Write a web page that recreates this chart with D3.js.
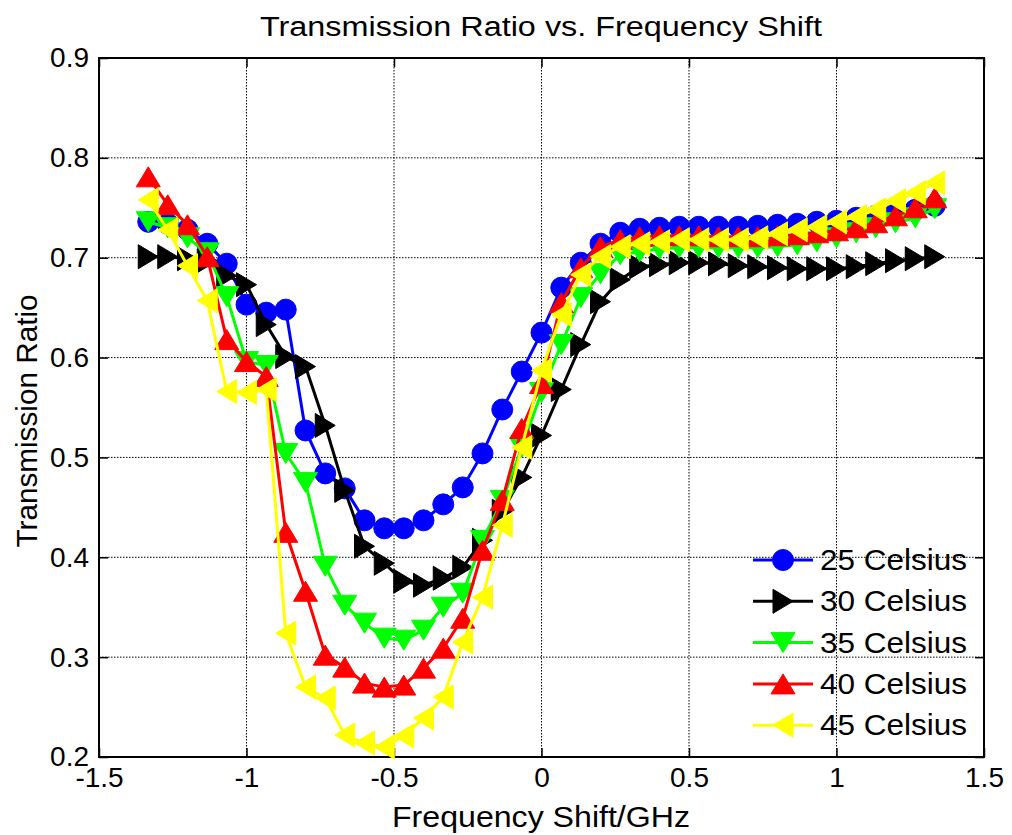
<!DOCTYPE html>
<html lang="en">
<head>
<meta charset="UTF-8">
<title>Transmission Ratio vs. Frequency Shift</title>
<script src="https://cdn.jsdelivr.net/npm/d3@7"></script>
<style>
*{margin:0; padding:0;}
body{background:#fff;}
svg text{font-family:"Liberation Sans", Arial, sans-serif; fill:#000;}
.grid line{stroke:#000; stroke-width:1; stroke-dasharray:1.5 1.5;}
.axis path{display:none;}
.axis line{stroke:#000; stroke-width:1.5;}
</style>
</head>
<body>
<script>
// frequency shift (GHz)
var shift = [-1.333,-1.267,-1.2,-1.133,-1.067,-1.0,-0.933,-0.867,-0.8,-0.733,
	-0.667,-0.6,-0.533,-0.467,-0.4,-0.333,-0.267,-0.2,-0.133,-0.067,
	0,0.067,0.133,0.2,0.267,0.333,0.4,0.467,0.533,0.6,
	0.667,0.733,0.8,0.867,0.933,1.0,1.067,1.133,1.2,1.267,1.333];

var t25 = [.736,.734,.728,.714,.694,.653,.645,.648,.527,.484,
	.469,.437,.429,.429,.437,.453,.470,.504,.548,.586,
	.625,.670,.695,.714,.725,.729,.730,.731,.731,.731,
	.731,.732,.733,.734,.736,.737,.740,.742,.745,.748,.752];
var t30 = [.701,.701,.699,.697,.682,.673,.633,.601,.591,.532,
	.467,.411,.394,.376,.372,.379,.390,.417,.446,.480,
	.522,.568,.613,.656,.678,.691,.693,.695,.695,.694,
	.692,.691,.690,.689,.689,.689,.691,.694,.697,.699,.701];
var t35 = [.736,.730,.720,.705,.661,.596,.592,.504,.475,.391,
	.352,.334,.319,.317,.327,.350,.364,.417,.457,.510,
	.565,.613,.660,.684,.703,.706,.709,.710,.710,.710,
	.710,.710,.711,.713,.716,.720,.725,.730,.735,.740,.749];
var t40 = [.781,.753,.733,.701,.618,.596,.581,.425,.366,.302,
	.290,.274,.270,.272,.289,.309,.339,.407,.457,.529,
	.574,.655,.690,.711,.718,.721,.722,.722,.722,.721,
	.721,.721,.722,.723,.725,.727,.730,.735,.742,.750,.760];
var t45 = [.758,.728,.692,.657,.566,.565,.568,.324,.270,.259,
	.222,.214,.210,.221,.239,.260,.315,.360,.432,.510,
	.587,.643,.683,.701,.711,.714,.716,.718,.718,.718,
	.718,.720,.724,.728,.731,.736,.741,.748,.757,.765,.775];

var seriesNames = ["25 Celsius", "30 Celsius", "35 Celsius", "40 Celsius", "45 Celsius"];
var seriesColors = ["#0000ff", "#000000", "#00ff00", "#ff0000", "#ffff00"];
var seriesMarkers = ["circle", "right", "down", "up", "left"];
var seriesValues = [t25, t30, t35, t40, t45];

var xTicks = [-1.5, -1, -0.5, 0, 0.5, 1, 1.5];
var xTickLabels = ["-1.5", "-1", "-0.5", "0", "0.5", "1", "1.5"];
var yTicks = [0.2, 0.3, 0.4, 0.5, 0.6, 0.7, 0.8, 0.9];

var width = 1012, height = 835;
var padL = 99, padR = 984, padT = 58, padB = 757;

var svg = d3.select("body").append("svg")
	.attr("width", width)
	.attr("height", height);

var x = d3.scaleLinear().domain([-1.5, 1.5]).range([padL, padR]);
var y = d3.scaleLinear().domain([0.2, 0.9]).range([padB, padT]);

// grid
var grid = svg.append("g").classed("grid", true);
grid.selectAll(".gx").data(xTicks.slice(1, -1)).enter().append("line")
	.attr("x1", function(d){ return x(d); }).attr("x2", function(d){ return x(d); })
	.attr("y1", padT).attr("y2", padB);
grid.selectAll(".gy").data(yTicks.slice(1, -1)).enter().append("line")
	.attr("y1", function(d){ return y(d); }).attr("y2", function(d){ return y(d); })
	.attr("x1", padL).attr("x2", padR);

// axes, ticks inside like matlab
var fmtX = function(d){ return xTickLabels[xTicks.indexOf(d)]; };
svg.append("g").attr("class", "axis")
	.attr("transform", "translate(0," + padB + ")")
	.call(d3.axisBottom(x).tickValues(xTicks).tickSizeInner(-9).tickSizeOuter(0).tickPadding(10).tickFormat(fmtX))
	.selectAll("text").style("font-size", "28px");
svg.append("g").attr("class", "axis")
	.attr("transform", "translate(0," + padT + ")")
	.call(d3.axisTop(x).tickValues(xTicks).tickSizeInner(-9).tickSizeOuter(0).tickFormat(""));
svg.append("g").attr("class", "axis")
	.attr("transform", "translate(" + padL + ",0)")
	.call(d3.axisLeft(y).tickValues(yTicks).tickSizeInner(-9).tickSizeOuter(0).tickPadding(10).tickFormat(d3.format(".1f")))
	.selectAll("text").style("font-size", "28px");
svg.append("g").attr("class", "axis")
	.attr("transform", "translate(" + padR + ",0)")
	.call(d3.axisRight(y).tickValues(yTicks).tickSizeInner(-9).tickSizeOuter(0).tickFormat(""));
svg.selectAll(".axis").attr("font-family", null).attr("font-size", null);

// box
svg.append("rect")
	.attr("x", padL).attr("y", padT)
	.attr("width", padR - padL).attr("height", padB - padT)
	.attr("fill", "none").attr("stroke", "#000").attr("stroke-width", 2);

// marker shapes, centred on their bounding box
function markerPath(type) {
	switch (type) {
		case "circle": return d3.symbol().type(d3.symbolCircle).size(Math.PI * 10.5 * 10.5)();
		case "right": return "M-10,-12L10,0L-10,12Z";
		case "left": return "M10,-12L-10,0L10,12Z";
		case "up": return "M-12,10L0,-10L12,10Z";
		case "down": return "M-12,-10L0,10L12,-10Z";
	}
}

var line = d3.line()
	.x(function(d){ return x(d[0]); })
	.y(function(d){ return y(d[1]); });

var plot = svg.append("g");
seriesValues.forEach(function(vals, k) {
	var pts = shift.map(function(s, i){ return [s, vals[i]]; });
	var g = plot.append("g");
	g.append("path")
		.attr("d", line(pts))
		.attr("fill", "none")
		.attr("stroke", seriesColors[k])
		.attr("stroke-width", 3);
	g.selectAll("path.m").data(pts).enter().append("path")
		.attr("class", "m")
		.attr("d", markerPath(seriesMarkers[k]))
		.attr("transform", function(d){ return "translate(" + x(d[0]) + "," + y(d[1]) + ")"; })
		.attr("fill", seriesColors[k])
		.attr("stroke", seriesColors[k])
		.attr("stroke-width", 1);
});

// legend (no box)
var legend = svg.append("g").attr("transform", "translate(753,560)");
seriesNames.forEach(function(name, k) {
	var row = legend.append("g").attr("transform", "translate(0," + (k * 41.3) + ")");
	row.append("line").attr("x1", 0).attr("x2", 60).attr("y1", 0).attr("y2", 0)
		.attr("stroke", seriesColors[k]).attr("stroke-width", 3);
	row.append("path").attr("d", markerPath(seriesMarkers[k]))
		.attr("transform", "translate(30,0)")
		.attr("fill", seriesColors[k]).attr("stroke", seriesColors[k]);
	row.append("text").attr("x", 67).attr("y", 10)
		.style("font-size", "29px")
		.attr("textLength", 147).attr("lengthAdjust", "spacingAndGlyphs")
		.text(name);
});

// titles
svg.append("text")
	.attr("x", 541).attr("y", 36)
	.attr("text-anchor", "middle")
	.style("font-size", "27px")
	.attr("textLength", 562).attr("lengthAdjust", "spacingAndGlyphs")
	.text("Transmission Ratio vs. Frequency Shift");
svg.append("text")
	.attr("x", 541).attr("y", 827)
	.attr("text-anchor", "middle")
	.style("font-size", "29px")
	.attr("textLength", 298).attr("lengthAdjust", "spacingAndGlyphs")
	.text("Frequency Shift/GHz");
svg.append("text")
	.attr("transform", "translate(37,421) rotate(-90)")
	.attr("text-anchor", "middle")
	.style("font-size", "29px")
	.attr("textLength", 253).attr("lengthAdjust", "spacingAndGlyphs")
	.text("Transmission Ratio");
</script>
</body>
</html>
